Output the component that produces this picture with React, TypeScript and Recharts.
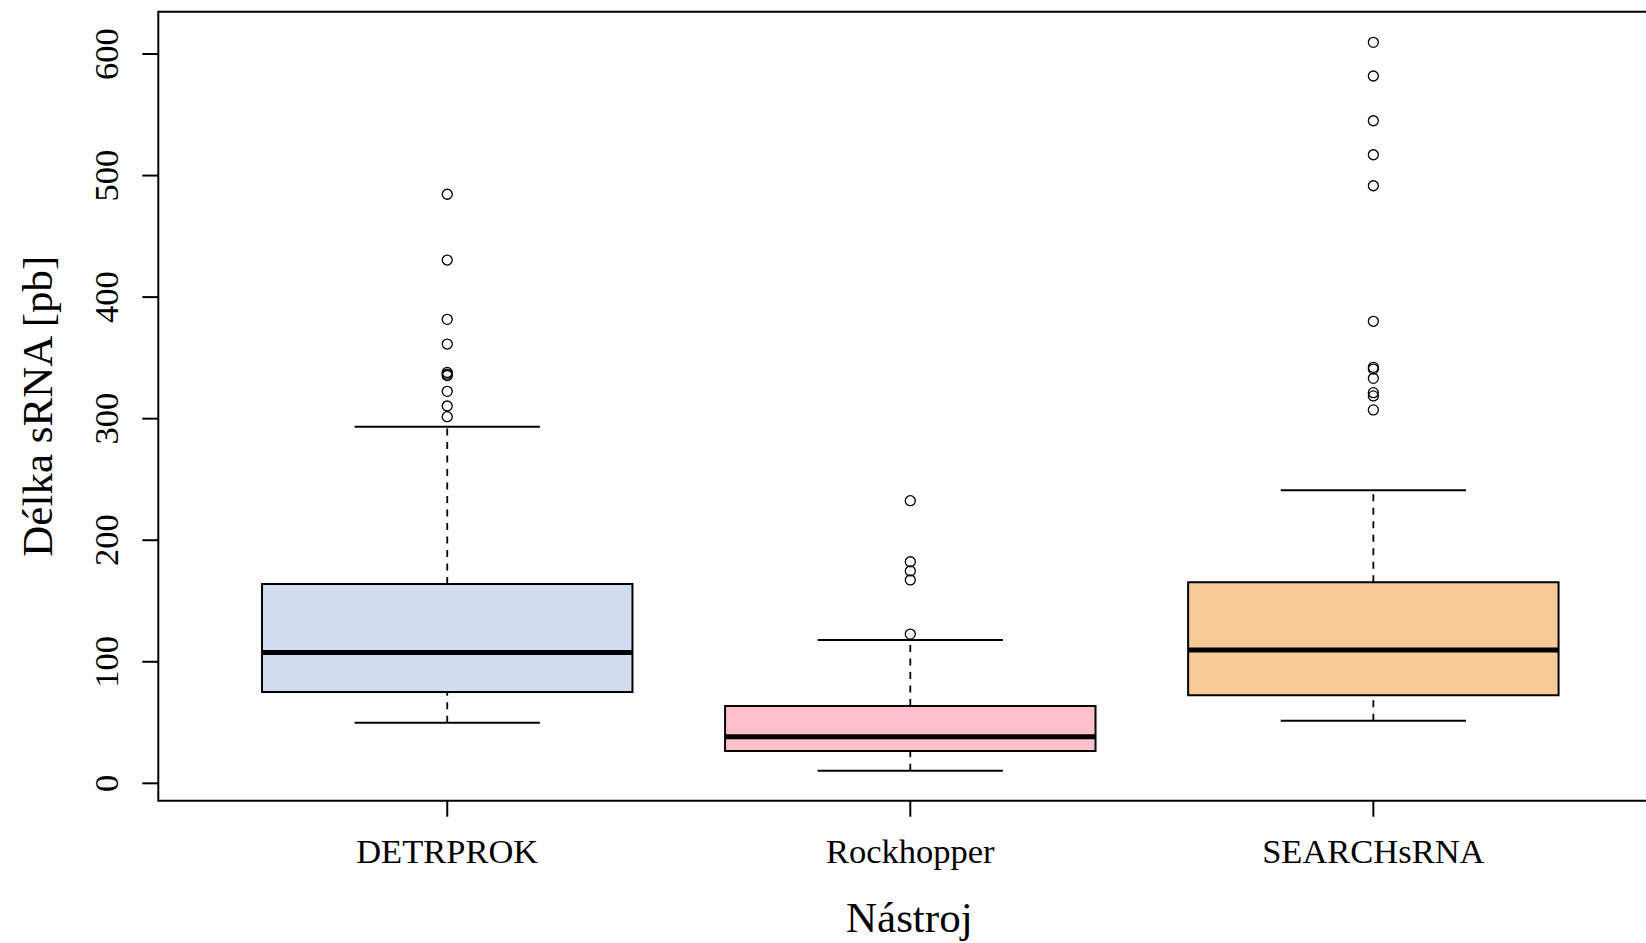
import React from 'react';
import {
  ScatterChart,
  Scatter,
  XAxis,
  YAxis,
  ReferenceArea,
  ReferenceLine,
} from 'recharts';

// ---- data ----
const categories = ['DETRPROK', 'Rockhopper', 'SEARCHsRNA'];
const whiskerLow = [49.9, 10.4, 51.5];
const q1 = [75.1, 26.6, 72.4];
const median = [107.6, 38.3, 109.7];
const q3 = [164.0, 63.6, 165.4];
const whiskerHigh = [293.4, 117.9, 241.1];
const outliersDETRPROK = [484.6, 430.5, 381.7, 361.4, 338.0, 336.7, 335.5, 322.5, 310.4, 301.6];
const outliersRockhopper = [232.5, 182.3, 174.7, 167.3, 122.8];
const outliersSEARCHsRNA = [609.6, 581.9, 545.1, 517.1, 491.6, 380.1, 342.2, 340.8, 333.2, 321.4, 318.7, 307.2];
const boxColors = ['#D2DDF0', '#FFC0CB', '#F7CA98'];
const yTicks = [0, 100, 200, 300, 400, 500, 600];
const xTicks = [1, 2, 3];

// ---- layout / style constants ----
const X_MIN = 0.376;
const X_MAX = 3.624;
const Y_MIN = -14.3;
const Y_MAX = 634.8;
const BOX_HALF = 0.4;
const CAP_HALF = 0.2;
const FONT = '"Liberation Serif", "Times New Roman", serif';
const TICK_FONT = 34.5;
const TITLE_FONT = 43;

const outlierSets = [outliersDETRPROK, outliersRockhopper, outliersSEARCHsRNA];
const outlierPoints = outlierSets.flatMap((arr, i) => arr.map((v) => ({ x: i + 1, y: v })));

const XTick = (props: any) => {
  const { x, y, payload } = props;
  const label = categories[Math.round(payload.value) - 1] ?? '';
  return (
    <text x={x} y={y + 46} textAnchor="middle" fontSize={TICK_FONT} fontFamily={FONT} fill="#000">
      {label}
    </text>
  );
};

const YTick = (props: any) => {
  const { x, y, payload } = props;
  const bx = x - 24;
  return (
    <text
      x={bx}
      y={y}
      transform={`rotate(-90, ${bx}, ${y})`}
      textAnchor="middle"
      fontSize={TICK_FONT}
      fontFamily={FONT}
      fill="#000"
    >
      {payload.value}
    </text>
  );
};

const XLabel = (props: any) => {
  const vb = props.viewBox || {};
  const cx = vb.x + vb.width / 2 - 1;
  const cy = vb.y + 131;
  return (
    <text x={cx} y={cy} textAnchor="middle" fontSize={TITLE_FONT} fontFamily={FONT} fill="#000">
      Nástroj
    </text>
  );
};

const YLabel = (props: any) => {
  const vb = props.viewBox || {};
  const cx = vb.x + 52;
  const cy = vb.y + vb.height / 2;
  return (
    <text
      x={cx}
      y={cy}
      transform={`rotate(-90, ${cx}, ${cy})`}
      textAnchor="middle"
      fontSize={TITLE_FONT}
      fontFamily={FONT}
      fill="#000"
    >
      Délka sRNA [pb]
    </text>
  );
};

const OutlierShape = (props: any) => (
  <circle cx={props.cx} cy={props.cy} r={5} fill="none" stroke="#000" strokeWidth={1.3} />
);

export default function App() {
  return (
    <div
      style={{
        position: 'absolute',
        left: 0,
        top: 0,
        width: 1646,
        height: 943,
        overflow: 'hidden',
        background: '#fff',
      }}
    >
      <ScatterChart
        width={1670}
        height={943}
        margin={{ top: 11.7, right: 7.7, bottom: 0, left: 0 }}
      >
        <XAxis
          type="number"
          dataKey="x"
          domain={[X_MIN, X_MAX]}
          ticks={xTicks}
          interval={0}
          allowDataOverflow
          axisLine={false}
          tickLine={{ stroke: '#000', strokeWidth: 2 }}
          tickSize={16}
          tickMargin={0}
          tick={<XTick />}
          height={142.3}
          label={XLabel}
        />
        <YAxis
          type="number"
          dataKey="y"
          domain={[Y_MIN, Y_MAX]}
          ticks={yTicks}
          interval={0}
          allowDataOverflow
          axisLine={false}
          tickLine={{ stroke: '#000', strokeWidth: 2 }}
          tickSize={16}
          tickMargin={0}
          tick={<YTick />}
          width={158.3}
          label={YLabel}
        />
        <ReferenceArea
          x1={X_MIN}
          x2={X_MAX}
          y1={Y_MIN}
          y2={Y_MAX}
          fill="none"
          stroke="#000"
          strokeWidth={2}
          ifOverflow="visible"
        />
        {categories.map((c, i) => (
          <ReferenceLine
            key={`wu-${c}`}
            segment={[{ x: i + 1, y: q3[i] }, { x: i + 1, y: whiskerHigh[i] }]}
            stroke="#000"
            strokeWidth={1.8}
            strokeDasharray="7 6.5"
            ifOverflow="visible"
          />
        ))}
        {categories.map((c, i) => (
          <ReferenceLine
            key={`wl-${c}`}
            segment={[{ x: i + 1, y: whiskerLow[i] }, { x: i + 1, y: q1[i] }]}
            stroke="#000"
            strokeWidth={1.8}
            strokeDasharray="7 6.5"
            ifOverflow="visible"
          />
        ))}
        {categories.map((c, i) => (
          <ReferenceLine
            key={`cu-${c}`}
            segment={[{ x: i + 1 - CAP_HALF, y: whiskerHigh[i] }, { x: i + 1 + CAP_HALF, y: whiskerHigh[i] }]}
            stroke="#000"
            strokeWidth={2}
            ifOverflow="visible"
          />
        ))}
        {categories.map((c, i) => (
          <ReferenceLine
            key={`cl-${c}`}
            segment={[{ x: i + 1 - CAP_HALF, y: whiskerLow[i] }, { x: i + 1 + CAP_HALF, y: whiskerLow[i] }]}
            stroke="#000"
            strokeWidth={2}
            ifOverflow="visible"
          />
        ))}
        {categories.map((c, i) => (
          <ReferenceArea
            key={`box-${c}`}
            x1={i + 1 - BOX_HALF}
            x2={i + 1 + BOX_HALF}
            y1={q1[i]}
            y2={q3[i]}
            fill={boxColors[i]}
            fillOpacity={1}
            stroke="#000"
            strokeWidth={2}
            ifOverflow="visible"
          />
        ))}
        {categories.map((c, i) => (
          <ReferenceLine
            key={`med-${c}`}
            segment={[{ x: i + 1 - BOX_HALF, y: median[i] }, { x: i + 1 + BOX_HALF, y: median[i] }]}
            stroke="#000"
            strokeWidth={5}
            ifOverflow="visible"
          />
        ))}
        <Scatter
          data={outlierPoints}
          dataKey="y"
          shape={OutlierShape}
          isAnimationActive={false}
        />
      </ScatterChart>
    </div>
  );
}
